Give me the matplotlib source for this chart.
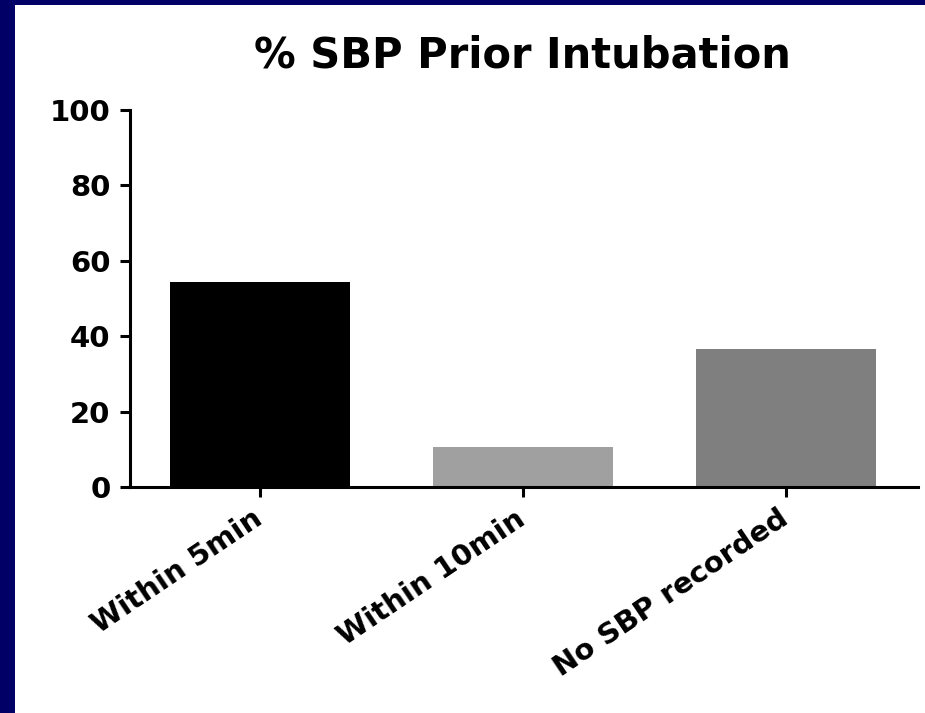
import matplotlib.pyplot as plt
from matplotlib.patches import Rectangle

categories = ['Within 5min', 'Within 10min', 'No SBP recorded']
values = [54.4, 10.6, 36.6]
bar_colors = ['#000000', '#a0a0a0', '#7f7f7f']
y_ticks = [0, 20, 40, 60, 80, 100]

plt.rcParams['font.family'] = ['DejaVu Sans']
plt.rcParams['font.weight'] = 'bold'

fig = plt.figure(figsize=(9.25, 7.13), dpi=100)
fig.patch.set_facecolor('#000066')
# white panel inside the navy frame
fig.patches.append(Rectangle((15 / 925, 0), 1, 1 - 5 / 713, transform=fig.transFigure,
                             facecolor='white', edgecolor='none', zorder=-5))

ax = fig.add_axes([130 / 925, 1 - 487 / 713, (918 - 130) / 925, (487 - 110) / 713])
ax.set_facecolor('none')
x = range(len(categories))
ax.bar(x, values, width=0.685, color=bar_colors)

ax.set_xlim(-0.494, 2.502)
ax.set_ylim(0, 100)
ax.set_yticks(y_ticks)
ax.set_xticks(list(x))
ax.set_xticklabels(categories, rotation=34, ha='right', va='center', rotation_mode='anchor',
                   fontsize=21, fontweight='bold')
for lbl in ax.get_yticklabels():
    lbl.set_fontsize(21)
    lbl.set_fontweight('bold')

for s in ['top', 'right']:
    ax.spines[s].set_visible(False)
for s in ['left', 'bottom']:
    ax.spines[s].set_linewidth(2.2)
ax.tick_params(axis='both', length=7, width=2.2)
ax.tick_params(axis='x', pad=14)
ax.tick_params(axis='y', pad=7)

fig.text(0.565, 1 - 55 / 713, '% SBP Prior Intubation', ha='center', va='center',
         fontsize=30, fontweight='bold')

fig.savefig('out.png', dpi=100, facecolor=fig.get_facecolor())
